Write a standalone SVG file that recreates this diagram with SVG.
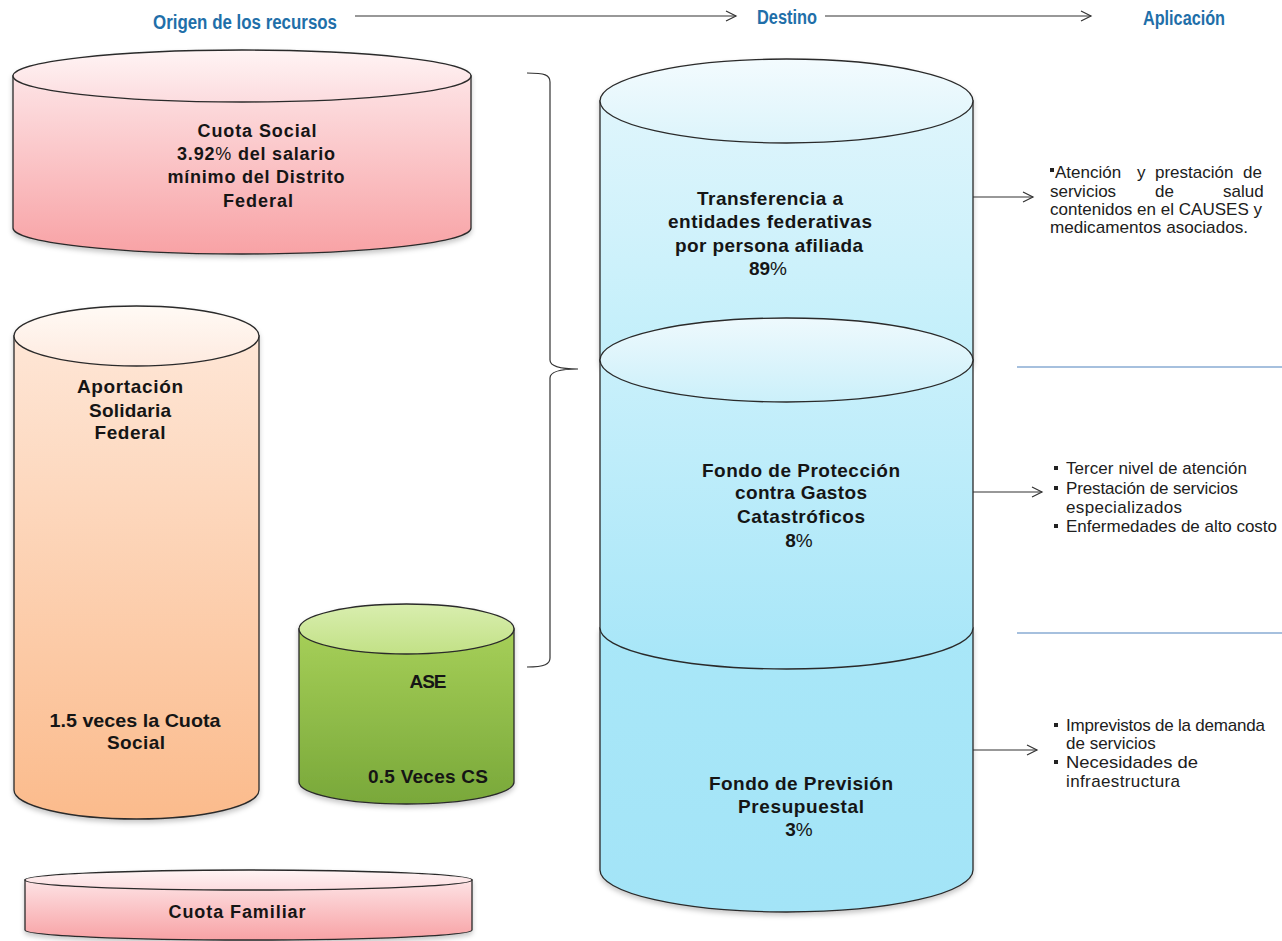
<svg xmlns="http://www.w3.org/2000/svg" width="1282" height="941" viewBox="0 0 1282 941">
<defs>
  <linearGradient id="pinkBody" x1="0" y1="0" x2="0" y2="1"><stop offset="0" stop-color="#fde3e5"/><stop offset="1" stop-color="#f8a2a5"/></linearGradient>
  <linearGradient id="pinkTop" x1="0" y1="0" x2="0" y2="1"><stop offset="0" stop-color="#fff4f4"/><stop offset="1" stop-color="#fcdcdf"/></linearGradient>
  <linearGradient id="peachBody" x1="0" y1="0" x2="0" y2="1"><stop offset="0" stop-color="#fee6d6"/><stop offset="1" stop-color="#fbbb8c"/></linearGradient>
  <linearGradient id="peachTop" x1="0" y1="0" x2="0" y2="1"><stop offset="0" stop-color="#fffaf5"/><stop offset="1" stop-color="#feeadf"/></linearGradient>
  <linearGradient id="greenBody" x1="0" y1="0" x2="0" y2="1"><stop offset="0" stop-color="#a6cf58"/><stop offset="1" stop-color="#79a83a"/></linearGradient>
  <linearGradient id="greenTop" x1="0" y1="0" x2="0" y2="1"><stop offset="0" stop-color="#d9eeaf"/><stop offset="1" stop-color="#c2e186"/></linearGradient>
  <linearGradient id="blueBodyA" x1="0" y1="0" x2="0" y2="1"><stop offset="0" stop-color="#dff5fc"/><stop offset="1" stop-color="#bdeefa"/></linearGradient>
  <linearGradient id="blueTopA" x1="0" y1="0" x2="0" y2="1"><stop offset="0" stop-color="#f3fbfe"/><stop offset="1" stop-color="#dcf4fb"/></linearGradient>
  <linearGradient id="blueBodyB" x1="0" y1="0" x2="0" y2="1"><stop offset="0" stop-color="#c9f0fb"/><stop offset="1" stop-color="#a7e6f8"/></linearGradient>
  <linearGradient id="blueTopB" x1="0" y1="0" x2="0" y2="1"><stop offset="0" stop-color="#eef9fd"/><stop offset="1" stop-color="#cbf0fa"/></linearGradient>
  <linearGradient id="blueBodyC" x1="0" y1="0" x2="0" y2="1"><stop offset="0" stop-color="#a9e7f8"/><stop offset="1" stop-color="#a3e4f7"/></linearGradient>
  <filter id="shadow" x="-5%" y="-5%" width="110%" height="115%">
    <feDropShadow dx="0" dy="3" stdDeviation="2.5" flood-color="#000" flood-opacity="0.22"/>
  </filter>
  <marker id="chev" markerWidth="14" markerHeight="14" refX="11" refY="7" orient="auto" markerUnits="userSpaceOnUse">
    <path d="M1,2 L11,7 L1,12" fill="none" stroke="#333" stroke-width="1.2"/>
  </marker>
  <style>
    .cyl { stroke: #2a2a2a; stroke-width: 1.3; }
    .hdr { font-family: "Liberation Sans Narrow", "Liberation Sans", Arial, sans-serif; font-weight: bold; font-size: 20px; fill: #1f6fa9; }
    .lbl { font-family: "Liberation Sans", Arial, sans-serif; font-weight: bold; font-size: 19px; fill: #151515; text-anchor: middle; }
    .lbl17 { font-size: 18px; }
    .pct { font-weight: normal; }
    .app { font-family: "Liberation Sans", Arial, sans-serif; font-size: 17px; fill: #202020; }
    .conn { stroke: #333; stroke-width: 1.2; fill: none; }
    .sep { stroke: #4f81bd; stroke-width: 1.2; }
    .bul { fill: #222; }
  </style>
</defs>
<rect width="1282" height="941" fill="#ffffff"/>

<!-- Header -->
<g id="header">
  <text class="hdr" x="153" y="29" textLength="184" lengthAdjust="spacingAndGlyphs">Origen de los recursos</text>
  <text class="hdr" x="757" y="24" textLength="60" lengthAdjust="spacingAndGlyphs">Destino</text>
  <text class="hdr" x="1143" y="25" textLength="82" lengthAdjust="spacingAndGlyphs">Aplicación</text>
</g>

<!-- Cuota Social -->
<g id="cuota-social" filter="url(#shadow)">
  <path class="cyl" fill="url(#pinkBody)" d="M13,76 V228 A229,26 0 0 0 471,228 V76 Z"/>
  <ellipse class="cyl" fill="url(#pinkTop)" cx="242" cy="76" rx="229" ry="26"/>
</g>
<g id="cuota-social-text">
  <text class="lbl lbl17" x="257" y="137" textLength="119" lengthAdjust="spacing">Cuota Social</text>
  <text class="lbl lbl17" x="256" y="160" textLength="158" lengthAdjust="spacing">3.92<tspan class="pct">%</tspan> del salario</text>
  <text class="lbl lbl17" x="256" y="183" textLength="177" lengthAdjust="spacing">mínimo del Distrito</text>
  <text class="lbl lbl17" x="258" y="207" textLength="70" lengthAdjust="spacing">Federal</text>
</g>

<!-- Aportación Solidaria Federal -->
<g id="aportacion-solidaria" filter="url(#shadow)">
  <path class="cyl" fill="url(#peachBody)" d="M14,336 V790 A122.5,29 0 0 0 259,790 V336 Z"/>
  <ellipse class="cyl" fill="url(#peachTop)" cx="136.5" cy="336" rx="122.5" ry="30"/>
</g>
<g id="aportacion-text">
  <text class="lbl" x="130" y="393" textLength="106" lengthAdjust="spacing">Aportación</text>
  <text class="lbl" x="130" y="417" textLength="82" lengthAdjust="spacing">Solidaria</text>
  <text class="lbl" x="130" y="439" textLength="71" lengthAdjust="spacing">Federal</text>
  <text class="lbl" x="135" y="727" textLength="171" lengthAdjust="spacingAndGlyphs">1.5 veces la Cuota</text>
  <text class="lbl" x="136" y="749" textLength="58" lengthAdjust="spacing">Social</text>
</g>

<!-- ASE -->
<g id="ase" filter="url(#shadow)">
  <path class="cyl" fill="url(#greenBody)" d="M299,629 V782 A107.5,22 0 0 0 514,782 V629 Z"/>
  <ellipse class="cyl" fill="url(#greenTop)" cx="406.5" cy="629" rx="107.5" ry="25"/>
</g>
<g id="ase-text">
  <text class="lbl" x="428" y="688" textLength="37" lengthAdjust="spacing">ASE</text>
  <text class="lbl" x="428" y="783" textLength="120" lengthAdjust="spacing">0.5 Veces CS</text>
</g>

<!-- Cuota Familiar -->
<g id="cuota-familiar" filter="url(#shadow)">
  <path class="cyl" fill="url(#pinkBody)" d="M25,880 V930 A223.5,10 0 0 0 472,930 V880 Z"/>
  <ellipse class="cyl" fill="url(#pinkTop)" cx="248.5" cy="880" rx="223.5" ry="10"/>
</g>
<g id="cuota-familiar-text">
  <text class="lbl lbl17" x="237" y="918" textLength="137" lengthAdjust="spacing">Cuota Familiar</text>
</g>

<!-- Destino stacked cylinders -->
<g id="transferencia" filter="url(#shadow)">
  <path class="cyl" fill="url(#blueBodyA)" d="M600,101 V360 A186.5,42 0 0 0 973,360 V101 Z"/>
  <ellipse class="cyl" fill="url(#blueTopA)" cx="786.5" cy="101" rx="186.5" ry="42"/>
</g>
<g id="fondo-prevision" filter="url(#shadow)">
  <path class="cyl" fill="url(#blueBodyC)" d="M600,628 V870 A186.5,42 0 0 0 973,870 V628 Z"/>
</g>
<g id="fondo-proteccion">
  <path class="cyl" fill="url(#blueBodyB)" d="M600,360 V628 A186.5,41 0 0 0 973,628 V360 Z"/>
  <ellipse class="cyl" fill="url(#blueTopB)" cx="786.5" cy="360" rx="186.5" ry="42"/>
</g>
<g id="destino-text">
  <text class="lbl" x="770" y="205" textLength="146" lengthAdjust="spacing">Transferencia a</text>
  <text class="lbl" x="770" y="228" textLength="204" lengthAdjust="spacing">entidades federativas</text>
  <text class="lbl" x="769" y="252" textLength="188" lengthAdjust="spacing">por persona afiliada</text>
  <text class="lbl" x="768" y="275">89<tspan class="pct">%</tspan></text>

  <text class="lbl" x="801" y="477" textLength="198" lengthAdjust="spacing">Fondo de Protección</text>
  <text class="lbl" x="801" y="499" textLength="132" lengthAdjust="spacing">contra Gastos</text>
  <text class="lbl" x="801" y="523" textLength="128" lengthAdjust="spacing">Catastróficos</text>
  <text class="lbl" x="799" y="547">8<tspan class="pct">%</tspan></text>

  <text class="lbl" x="801" y="790" textLength="184" lengthAdjust="spacing">Fondo de Previsión</text>
  <text class="lbl" x="801" y="813" textLength="126" lengthAdjust="spacing">Presupuestal</text>
  <text class="lbl" x="799" y="836">3<tspan class="pct">%</tspan></text>
</g>

<!-- Aplicación texts -->
<g id="aplicacion-causes">
  <rect class="bul" x="1050" y="168" width="4" height="4"/>
  <text class="app" y="178"><tspan x="1055">Atención</tspan><tspan x="1137">y</tspan><tspan x="1155">prestación</tspan><tspan x="1243">de</tspan></text>
  <text class="app" y="197"><tspan x="1050">servicios</tspan><tspan x="1155">de</tspan><tspan x="1223">salud</tspan></text>
  <text class="app" x="1050" y="215" textLength="212" lengthAdjust="spacing">contenidos en el CAUSES y</text>
  <text class="app" x="1050" y="233" textLength="198" lengthAdjust="spacingAndGlyphs">medicamentos asociados.</text>
</g>
<g id="aplicacion-catastroficos">
  <rect class="bul" x="1054" y="466" width="4" height="4"/>
  <text class="app" x="1066" y="474" textLength="181" lengthAdjust="spacing">Tercer nivel de atención</text>
  <rect class="bul" x="1054" y="486" width="4" height="4"/>
  <text class="app" x="1066" y="494" textLength="172" lengthAdjust="spacing">Prestación de servicios</text>
  <text class="app" x="1066" y="513" textLength="116" lengthAdjust="spacing">especializados</text>
  <rect class="bul" x="1054" y="524" width="4" height="4"/>
  <text class="app" x="1066" y="532" textLength="211" lengthAdjust="spacing">Enfermedades de alto costo</text>
</g>
<g id="aplicacion-prevision">
  <rect class="bul" x="1054" y="723" width="4" height="4"/>
  <text class="app" x="1066" y="731" textLength="199" lengthAdjust="spacing">Imprevistos de la demanda</text>
  <text class="app" x="1066" y="749">de servicios</text>
  <rect class="bul" x="1054" y="760" width="4" height="4"/>
  <text class="app" x="1066" y="768" textLength="132" lengthAdjust="spacingAndGlyphs">Necesidades de</text>
  <text class="app" x="1066" y="787" textLength="114" lengthAdjust="spacing">infraestructura</text>
</g>

<!-- Connectors -->
<g id="connectors">
  <line class="conn" x1="355" y1="16" x2="736" y2="16" marker-end="url(#chev)"/>
  <line class="conn" x1="825" y1="16" x2="1091" y2="16" marker-end="url(#chev)"/>
  <path class="conn" d="M527,73 C545,73 550,75 550,82 L550,360 C550,366 560,369 578,369 C560,369 550,372 550,378 L550,658 C550,664 545,667 527,667"/>
  <line class="conn" x1="973" y1="197" x2="1033" y2="197" marker-end="url(#chev)"/>
  <line class="conn" x1="973" y1="492" x2="1042" y2="492" marker-end="url(#chev)"/>
  <line class="conn" x1="973" y1="750" x2="1037" y2="750" marker-end="url(#chev)"/>
  <line class="sep" x1="1017" y1="367" x2="1282" y2="367"/>
  <line class="sep" x1="1017" y1="633" x2="1282" y2="633"/>
</g>
</svg>
